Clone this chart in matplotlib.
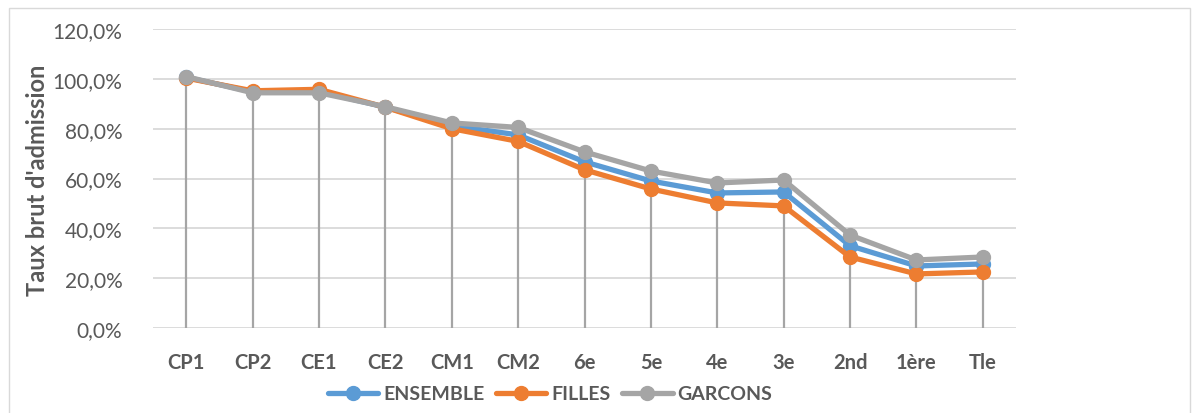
import matplotlib
matplotlib.use("Agg")
import matplotlib.pyplot as plt
from matplotlib.patches import Rectangle
from matplotlib.ticker import FuncFormatter
import numpy as np

# Data
categories = ["CP1", "CP2", "CE1", "CE2", "CM1", "CM2", "6e", "5e", "4e", "3e", "2nd", "1ère", "Tle"]
ensemble = [100.6, 94.8, 95.0, 88.6, 81.2, 77.5, 66.7, 59.0, 54.2, 54.6, 33.0, 24.9, 25.7]
filles = [100.3, 95.2, 95.8, 88.6, 80.0, 74.9, 63.5, 55.8, 50.2, 49.0, 28.5, 21.7, 22.5]
garcons = [100.9, 94.4, 94.4, 88.8, 82.3, 80.5, 70.7, 63.0, 58.2, 59.4, 37.3, 27.3, 28.5]

c_blue = "#5B9BD5"
c_orange = "#ED7D31"
c_grey = "#A5A5A5"
c_text = "#595959"

plt.rcParams['font.family'] = ['Lato', 'DejaVu Sans']

fig = plt.figure(figsize=(12.02, 4.14), dpi=100)
W, H = 1202, 414
ax = fig.add_axes([153 / W, (H - 329) / H, (1016 - 153) / W, (329 - 30) / H])

# outer chart frame
fig.patches.append(Rectangle((9 / W, -0.05), (1190 - 9) / W, (H - 9) / H + 0.05,
                             transform=fig.transFigure, fill=False,
                             edgecolor="#D9D9D9", linewidth=1.0))

x = np.arange(len(categories))
top = np.maximum.reduce([np.array(ensemble), np.array(filles), np.array(garcons)]) / 100

# drop lines
ax.vlines(x, 0, top, color=c_grey, linewidth=1.6, zorder=2)

for vals, col, name in [(ensemble, c_blue, "ENSEMBLE"),
                        (filles, c_orange, "FILLES"),
                        (garcons, c_grey, "GARCONS")]:
    ax.plot(x, np.array(vals) / 100, color=col, linewidth=3.8, marker="o",
            markersize=10, solid_capstyle="round", solid_joinstyle="round",
            label=name, zorder=3)

ax.set_xlim(-0.5, 12.5)
ax.set_ylim(0, 1.2)
ax.set_yticks(np.arange(0, 1.21, 0.2))
ax.yaxis.set_major_formatter(FuncFormatter(lambda v, p: f"{v * 100:.1f}%".replace(".", ",")))
ax.grid(axis="y", color="#D9D9D9", linewidth=1.3, zorder=0)
ax.set_axisbelow(True)
for s in ax.spines.values():
    s.set_visible(False)
ax.tick_params(axis="both", length=0, colors=c_text)
ax.tick_params(axis="y", pad=22, labelsize=15)
ax.tick_params(axis="x", pad=17, labelsize=14.5)
ax.set_xticks(x)
ax.set_xticklabels(categories, fontweight="bold")

fig.text(38 / W, (H - 180) / H, "Taux brut d'admission", rotation=90,
         ha="center", va="center", fontsize=17, fontweight="bold", color=c_text)

leg = fig.legend(loc="center", bbox_to_anchor=(550 / W, (H - 395) / H), ncol=3,
                 frameon=False, handlelength=2.6, columnspacing=0.6, handletextpad=0.25,
                 prop={"size": 14, "weight": "bold"})
for t in leg.get_texts():
    t.set_color(c_text)

fig.savefig("out.png", dpi=100)
